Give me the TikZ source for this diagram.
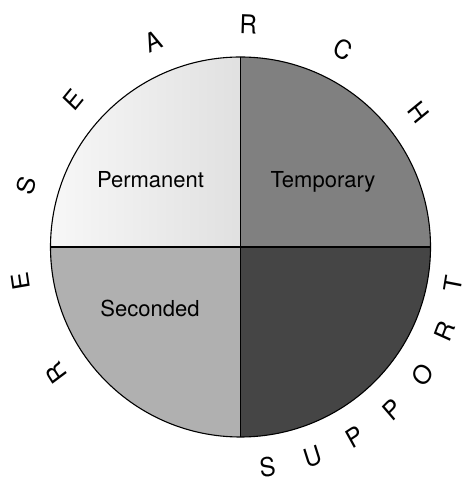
\documentclass[tikz,border=0pt]{standalone}
\usepackage{fontspec}
\setmainfont{TeX Gyre Heros}
\usetikzlibrary{calc}
\begin{document}
\begin{tikzpicture}[x=1pt,y=1pt,
  lbl/.style={font=\fontsize{22}{26}\selectfont, inner sep=0pt},
  ring/.style={font=\fontsize{26}{30}\selectfont, inner sep=0pt, xscale=0.92}]
\useasboundingbox (0,0) rectangle (468,484);
\coordinate (C) at (240.5,237);
\def\R{190}
% quadrants
\path[left color=black!3, right color=black!12] (C) -- ++(180:\R) arc (180:90:\R) -- cycle;
\fill[black!50] (C) -- ++(0:\R) arc (0:90:\R) -- cycle;
\fill[black!31] (C) -- ++(180:\R) arc (180:270:\R) -- cycle;
\fill[black!73] (C) -- ++(270:\R) arc (270:360:\R) -- cycle;
% lines
\draw[line width=1.1pt] (C) circle (\R);
\draw[line width=1.1pt] ($(C)+(0,\R)$) -- ($(C)+(0,-\R)$);
\draw[line width=1.1pt] ($(C)+(-\R,0)$) -- ($(C)+(\R,0)$);
% labels
\node[lbl] (perm) at (150.5,304) {Permanent};
\node[lbl] (temp) at (323,302) {Temporary};
\node[lbl] (sec) at (150,176) {Seconded};
% RESEARCH
\foreach \ch/\a [count=\i] in {R/214.5,E/189,S/164,E/138.5,A/113,R/88,C/62.5,H/37}{
  \node[ring, rotate=\a-90] (res\i) at ($(C)+(\a:223)$) {\ch};
}
% SUPPORT
\foreach \ch/\a/\r [count=\i] in {S/-83/222,U/-71/222,P/-59/222,P/-47/222,O/-35/222,R/-22.5/221,T/-10/216}{
  \node[ring, rotate=\a+90] (sup\i) at ($(C)+(\a:\r)$) {\ch};
}
\end{tikzpicture}
\end{document}
